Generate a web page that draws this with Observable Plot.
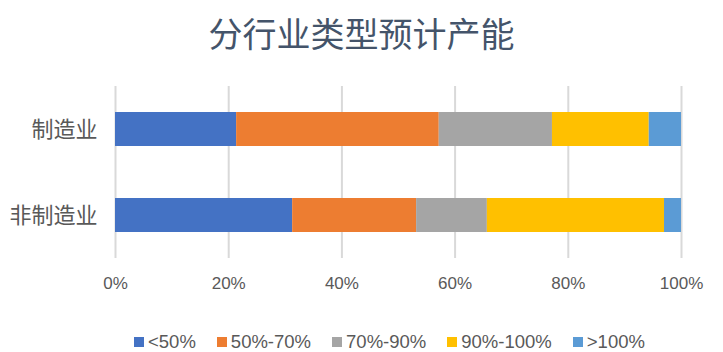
<!DOCTYPE html>
<html>
<head>
<meta charset="utf-8">
<script src="https://cdn.jsdelivr.net/npm/d3@7"></script>
<script src="https://cdn.jsdelivr.net/npm/@observablehq/plot@0.6"></script>
<style>
  html, body { margin: 0; padding: 0; background: #fff; }
  #wrap { position: relative; width: 723px; height: 352px; overflow: hidden; }
  #title { position: absolute; left: 0; top: 10px; width: 723px; text-align: center;
    font-family: "Noto Sans CJK SC", sans-serif; font-size: 34px; color: #44546A; line-height: 46px; }
  #legend { position: absolute; left: 134px; top: 330px; display: flex;
    font-family: "Liberation Sans", sans-serif; font-size: 18.5px; color: #595959; line-height: 24px; }
  .item { display: flex; align-items: center; margin-right: 21px; white-space: nowrap; }
  .sw { width: 10px; height: 10px; margin-right: 4px; }
  #chart { position: absolute; left: 0; top: 0; }
</style>
</head>
<body>
<div id="wrap">
  <div id="chart"></div>
  <div id="title"></div>
  <div id="legend"></div>
</div>
<script>
const title = "分行业类型预计产能";
const categories = ["制造业", "非制造业"];
const series = ["<50%", "50%-70%", "70%-90%", "90%-100%", ">100%"];
const colors = ["#4472C4", "#ED7D31", "#A5A5A5", "#FFC000", "#5B9BD5"];
const manufacturing = [21.4, 35.8, 20.0, 17.1, 5.7];
const nonManufacturing = [31.3, 21.9, 12.5, 31.3, 3.0];
const xTicks = [0, 0.2, 0.4, 0.6, 0.8, 1.0];

const rows = [];
[manufacturing, nonManufacturing].forEach((vals, ci) => {
  vals.forEach((v, si) => rows.push({category: categories[ci], series: series[si], value: v / 100}));
});

const chart = Plot.plot({
  width: 723,
  height: 352,
  marginTop: 86,
  marginBottom: 94,
  marginLeft: 115,
  marginRight: 42,
  style: {fontFamily: "Liberation Sans, sans-serif", background: "transparent"},
  x: {domain: [0, 1], ticks: xTicks, tickFormat: d3.format(".0%"), label: null},
  y: {domain: categories, paddingInner: 0.605, paddingOuter: 0.3025, label: null},
  color: {domain: series, range: colors},
  marks: [
    Plot.gridX(xTicks, {stroke: "#D9D9D9", strokeOpacity: 1, strokeWidth: 2}),
    Plot.barX(rows, Plot.stackX({x: "value", y: "category", fill: "series", order: series})),
    Plot.axisX({ticks: xTicks, tickFormat: d3.format(".0%"), tickSize: 0, tickPadding: 18, fontSize: 17, fill: "#595959", label: null}),
    Plot.axisY({tickSize: 0, tickPadding: 18, fontSize: 22, fill: "#595959", label: null,
      fontFamily: "Noto Sans CJK SC, sans-serif"})
  ]
});
document.getElementById("chart").appendChild(chart);
document.getElementById("title").textContent = title;

const legend = document.getElementById("legend");
series.forEach((s, i) => {
  const item = document.createElement("div");
  item.className = "item";
  const sw = document.createElement("div");
  sw.className = "sw";
  sw.style.background = colors[i];
  const t = document.createElement("span");
  t.textContent = s;
  item.appendChild(sw);
  item.appendChild(t);
  legend.appendChild(item);
});
</script>
</body>
</html>
